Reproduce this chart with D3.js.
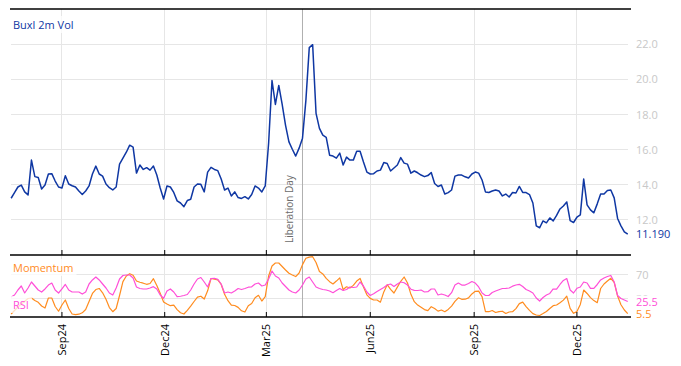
<!DOCTYPE html>
<html><head><meta charset="utf-8">
<script src="https://cdn.jsdelivr.net/npm/d3@7"></script>
<style>
body{margin:0;background:#fff}
svg{display:block;font-family:"Open Sans",sans-serif}
</style>
</head><body>
<svg id="chart" width="681" height="366"></svg>
<script>
// ---- data ----
const startDate = "2024-07-18";
const stepDays = 3;
const vol = [
13.23,13.55,13.87,13.98,13.59,13.42,15.40,14.46,14.41,13.76,
13.98,14.61,14.63,14.21,13.87,13.81,14.51,14.04,13.94,13.87,
13.64,13.44,13.64,13.93,14.61,15.06,14.61,14.49,14.04,13.83,
13.70,13.87,15.17,15.51,15.85,16.25,16.14,14.66,15.12,14.87,
14.97,14.83,15.06,14.55,13.81,13.19,13.93,13.87,13.56,13.08,
12.96,12.75,13.10,13.17,13.87,14.04,14.02,13.59,14.72,14.99,
14.87,14.80,14.32,13.70,13.81,13.36,13.59,13.27,13.22,13.32,
13.19,13.44,13.93,13.81,13.59,13.93,16.36,19.93,18.57,19.65,
18.57,17.38,16.44,16.02,15.63,16.08,16.65,18.80,21.80,21.97,
18.06,17.21,16.82,16.70,15.68,15.63,15.51,15.80,15.12,15.57,
15.40,15.40,15.91,15.91,15.29,14.72,14.61,14.63,14.78,14.83,
15.26,15.21,14.78,14.95,15.12,15.54,15.23,15.17,14.66,14.78,
14.68,14.55,14.46,14.52,14.69,14.07,13.90,13.98,13.47,13.55,
13.70,14.49,14.55,14.55,14.45,14.38,14.61,14.72,14.66,14.27,
13.59,13.56,13.64,13.70,13.64,13.36,13.47,13.30,13.56,13.53,
13.90,13.56,13.55,13.44,12.96,11.66,11.55,11.94,11.83,12.11,
11.94,12.25,12.62,12.79,13.02,11.96,11.85,12.15,12.28,14.32,
12.85,12.57,12.40,12.91,13.47,13.47,13.67,13.70,13.25,12.08,
11.66,11.32,11.19];
const momentum = [
4.9,10.7,16.5,21.4,26.0,30.4,31.3,27.1,24.2,18.1,
14.8,31.3,31.3,17.3,9.5,19.7,28.0,14.0,4.9,3.8,
4.6,6.9,12.3,25.5,38.7,45.2,46.9,39.8,29.1,15.6,
8.7,14.0,35.4,58.2,67.5,71.2,68.6,59.2,57.1,55.6,
53.8,55.1,63.0,51.8,39.2,24.7,21.4,18.6,19.4,12.2,
6.9,4.9,11.0,17.8,25.5,32.7,34.2,29.6,43.1,63.3,
62.2,60.9,53.5,37.3,26.8,19.4,18.9,15.8,10.2,8.2,
18.6,22.2,31.6,35.7,26.3,33.4,67.5,83.9,88.8,88.8,
83.1,77.3,71.9,69.1,66.5,72.4,86.2,96.7,98.6,99.2,
89.7,74.9,70.9,63.5,58.1,54.3,59.1,64.3,45.1,49.7,
47.7,52.0,59.2,63.5,49.5,36.5,30.6,28.0,28.0,24.4,
41.3,53.1,45.6,39.5,49.2,58.7,65.8,55.9,37.3,25.2,
19.6,16.0,12.2,10.5,16.9,14.0,9.7,11.5,8.7,12.5,
17.9,25.7,31.6,29.1,29.3,31.4,38.0,42.3,42.6,33.6,
8.7,8.7,10.7,7.4,8.9,9.5,5.8,8.2,8.7,13.8,
22.0,24.5,17.1,10.9,5.6,3.3,2.5,5.6,9.0,14.0,
18.6,19.7,23.5,27.8,34.4,14.3,6.1,8.9,20.6,44.4,
38.7,31.9,27.0,23.5,46.9,54.3,59.2,63.7,56.8,34.6,
20.1,11.5,5.5];
const rsi = [
32.9,36.2,44.4,51.0,39.5,47.7,57.6,51.0,44.4,41.1,
46.1,52.6,55.9,44.4,39.5,46.1,53.5,44.4,41.1,41.1,
41.1,37.8,41.1,54.3,60.9,65.8,60.9,54.3,47.7,39.5,
36.2,47.7,62.5,68.3,69.1,69.1,64.2,49.4,46.9,46.1,
46.1,47.7,49.9,46.1,36.2,30.8,42.8,46.1,41.1,33.4,
34.1,35.4,37.0,44.4,54.3,62.5,65.0,57.6,49.4,63.3,
63.7,62.0,54.3,39.5,41.1,39.5,42.8,46.9,45.2,46.9,
49.0,49.7,54.3,55.9,51.0,52.6,62.5,75.7,67.5,64.2,
55.9,50.2,44.4,41.1,39.5,44.4,52.6,62.5,65.8,57.6,
49.4,46.9,45.2,44.4,42.8,40.0,43.6,46.9,43.6,45.2,
49.4,48.5,49.4,57.6,51.0,41.1,35.4,38.2,42.0,45.2,
48.5,52.6,54.3,50.2,54.3,57.6,56.3,52.6,45.7,43.9,
43.6,44.4,41.1,41.6,46.1,46.1,36.2,37.8,36.2,33.7,
40.0,52.6,55.9,52.6,52.6,55.1,58.4,55.9,49.4,39.5,
35.4,35.4,40.3,42.8,44.9,46.9,47.2,47.7,50.7,52.6,
53.8,50.2,45.2,42.8,39.5,31.3,26.3,32.1,36.2,38.7,
46.1,45.7,53.5,60.1,63.3,44.4,39.5,47.2,49.4,57.6,
55.9,47.2,47.2,53.5,60.9,64.2,66.6,68.3,57.6,35.4,
30.4,28.0,25.5];
const volTicks = [12, 14, 16, 18, 20, 22];
const oscTicks = [30, 70];
const xTickDates = ["2024-09-01","2024-12-01","2025-03-01","2025-06-01","2025-09-01","2025-12-01"];
const xTickLabels = ["Sep24","Dec24","Mar25","Jun25","Sep25","Dec25"];
const eventDate = "2025-04-02";
const eventLabel = "Liberation Day";
const volName = "Buxl 2m Vol", momName = "Momentum", rsiName = "RSI";

// ---- layout ----
const parse = d3.timeParse("%Y-%m-%d");
const start = parse(startDate);
const dates = vol.map((_, i) => d3.timeDay.offset(start, i * stepDays));
const L = 10, R = 630, T = 9, MB = 255, OB = 317;
const colVol = "#0f37a3", colMom = "#ff8c1f", colRsi = "#ff4fd8";

const x = d3.scaleTime().domain([parse("2024-07-17"), parse("2026-01-17")]).range([L, R]);
const yV = d3.scaleLinear().domain([10, 24]).range([MB, T]);
const yO = d3.scaleLinear().domain([0, 102]).range([OB, MB]);

const svg = d3.select("#chart");
const grid = "#e6e6e6";
const tickX = xTickDates.map(parse);

// vertical gridlines
svg.append("g").selectAll("line").data(tickX).join("line")
  .attr("x1", d => x(d)).attr("x2", d => x(d)).attr("y1", T).attr("y2", OB)
  .attr("stroke", grid).attr("stroke-width", 1).attr("shape-rendering","crispEdges");

// horizontal gridlines main
svg.append("g").selectAll("line").data(volTicks).join("line")
  .attr("x1", L + 1).attr("x2", R - 2).attr("y1", d => yV(d)).attr("y2", d => yV(d))
  .attr("stroke", grid).attr("shape-rendering","crispEdges");
svg.append("g").selectAll("line").data(oscTicks).join("line")
  .attr("x1", L + 1).attr("x2", R - 2).attr("y1", d => yO(d)).attr("y2", d => yO(d))
  .attr("stroke", grid).attr("shape-rendering","crispEdges");

// tick labels right
svg.append("g").selectAll("text").data(volTicks).join("text")
  .attr("x", 636).attr("y", d => yV(d)).attr("dy", "0.38em")
  .attr("font-size", 11).attr("fill", "#c8c8c8").text(d => d.toFixed(1));
svg.append("g").selectAll("text").data(oscTicks).join("text")
  .attr("x", 636).attr("y", d => yO(d)).attr("dy", "0.38em")
  .attr("font-size", 11).attr("fill", "#c8c8c8").text(d => d);

// event line
const ex = x(parse(eventDate));
svg.append("line").attr("x1", ex).attr("x2", ex).attr("y1", T).attr("y2", OB)
  .attr("stroke", "#b0b0b0").attr("stroke-width", 1);
svg.append("text").attr("transform", `translate(${ex - 9},243) rotate(-90)`)
  .attr("font-size", 10).attr("fill", "#6b6b6b").text(eventLabel);

// series
const lineV = d3.line().x((d, i) => x(dates[i])).y(d => yV(d));
const lineO = d3.line().x((d, i) => x(dates[i])).y(d => yO(d));
svg.append("path").datum(momentum).attr("d", lineO).attr("fill", "none")
  .attr("stroke", colMom).attr("stroke-width", 1.2).attr("stroke-linejoin","round");
svg.append("path").datum(rsi).attr("d", lineO).attr("fill", "none")
  .attr("stroke", colRsi).attr("stroke-width", 1.2).attr("stroke-linejoin","round");
svg.append("path").datum(vol).attr("d", lineV).attr("fill", "none")
  .attr("stroke", colVol).attr("stroke-width", 1.5).attr("stroke-linejoin","round");

// axes lines
[T, MB, OB].forEach(yy => svg.append("line").attr("x1", L).attr("x2", R + 1)
  .attr("y1", yy).attr("y2", yy).attr("stroke", "#000").attr("stroke-width", 1.4));
// ticks (pointing up)
[MB, OB].forEach(yy => svg.append("g").selectAll("line").data(tickX).join("line")
  .attr("x1", d => x(d)).attr("x2", d => x(d)).attr("y1", yy - 5).attr("y2", yy)
  .attr("stroke", "#000").attr("stroke-width", 1));

// x labels
svg.append("g").selectAll("text").data(tickX).join("text")
  .attr("transform", d => `translate(${x(d)},324) rotate(-90)`)
  .attr("text-anchor", "end").attr("dy", "0.36em")
  .attr("font-size", 11).attr("fill", "#000").text((d, i) => xTickLabels[i]);

// legend labels with translucent boxes
function label(txt, xx, yy, col) {
  const t = svg.append("text").attr("x", xx).attr("y", yy).attr("font-size", 11).attr("fill", col).text(txt);
  const b = t.node().getBBox();
  svg.insert("rect", () => t.node()).attr("x", b.x - 3).attr("y", b.y - 1)
    .attr("width", b.width + 6).attr("height", b.height + 2).attr("fill", "#fff").attr("fill-opacity", 0.75);
}
label(volName, 13, 29, colVol);
label(momName, 13, 272, colMom);
label(rsiName, 13, 309, colRsi);

// last value labels
function lastLabel(txt, yy, col) {
  const t = svg.append("text").attr("x", 636).attr("y", yy).attr("dy", "0.38em")
    .attr("font-size", 11).attr("fill", col).text(txt);
  const b = t.node().getBBox();
  svg.insert("rect", () => t.node()).attr("x", b.x - 1).attr("y", b.y + 2)
    .attr("width", b.width + 2).attr("height", b.height - 3).attr("fill", "#fff");
}
lastLabel(vol[vol.length - 1].toFixed(3), yV(vol[vol.length - 1]), colVol);
lastLabel(rsi[rsi.length - 1].toFixed(1), yO(rsi[rsi.length - 1]), colRsi);
lastLabel(momentum[momentum.length - 1].toFixed(1), yO(momentum[momentum.length - 1]), colMom);
</script>
</body></html>
